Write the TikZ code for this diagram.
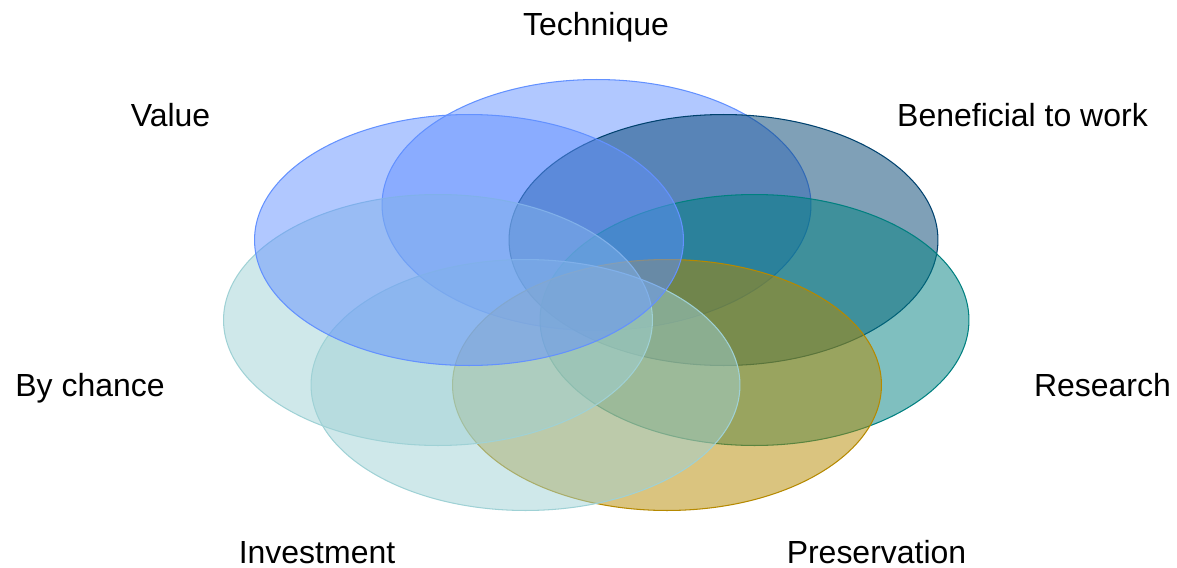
\documentclass[tikz,border=0pt]{standalone}
\usepackage{fontspec}
\setmainfont{Liberation Sans}
\definecolor{skyblue}{RGB}{99,145,255}
\definecolor{deepnavy}{RGB}{0,66,111}
\definecolor{darkteal}{RGB}{0,128,128}
\definecolor{mustard}{RGB}{181,137,0}
\definecolor{paleaqua}{RGB}{159,209,213}
\tikzset{petal/.style = {fill=#1, draw=#1, fill opacity=0.5, line width=0.6pt}}
\tikzset{tag/.style = {anchor=base, inner sep=0pt, font=\fontsize{18.2}{21}\selectfont}}

\begin{document}
\begin{tikzpicture}[x=0.02cm, y=-0.02cm]
\useasboundingbox (0,0) rectangle (1177,568);
\coordinate (tech) at (596.5,205);
\coordinate (bene) at (723.5,240);
\coordinate (rese) at (754.5,320);
\coordinate (pres) at (667,385);
\coordinate (inve) at (525.5,385);
\coordinate (chan) at (438,320);
\coordinate (valu) at (469,240);
\path[petal=skyblue]  (tech) ellipse [x radius=4.29cm, y radius=2.51cm];
\path[petal=deepnavy] (bene) ellipse [x radius=4.29cm, y radius=2.51cm];
\path[petal=darkteal] (rese) ellipse [x radius=4.29cm, y radius=2.51cm];
\path[petal=mustard]  (pres) ellipse [x radius=4.29cm, y radius=2.51cm];
\path[petal=paleaqua] (inve) ellipse [x radius=4.29cm, y radius=2.51cm];
\path[petal=paleaqua] (chan) ellipse [x radius=4.29cm, y radius=2.51cm];
\path[petal=skyblue]  (valu) ellipse [x radius=4.29cm, y radius=2.51cm];
\node[tag] (techlbl) at (596,35.7) {Technique};
\node[tag] (benelbl) at (1022.5,126.5) {Beneficial to work};
\node[tag] (reselbl) at (1102.5,396) {Research};
\node[tag] (preslbl) at (876.5,563) {Preservation};
\node[tag] (invelbl) at (317,563) {Investment};
\node[tag] (chanlbl) at (90,396) {By chance};
\node[tag] (valulbl) at (170.5,126) {Value};
\end{tikzpicture}
\end{document}
